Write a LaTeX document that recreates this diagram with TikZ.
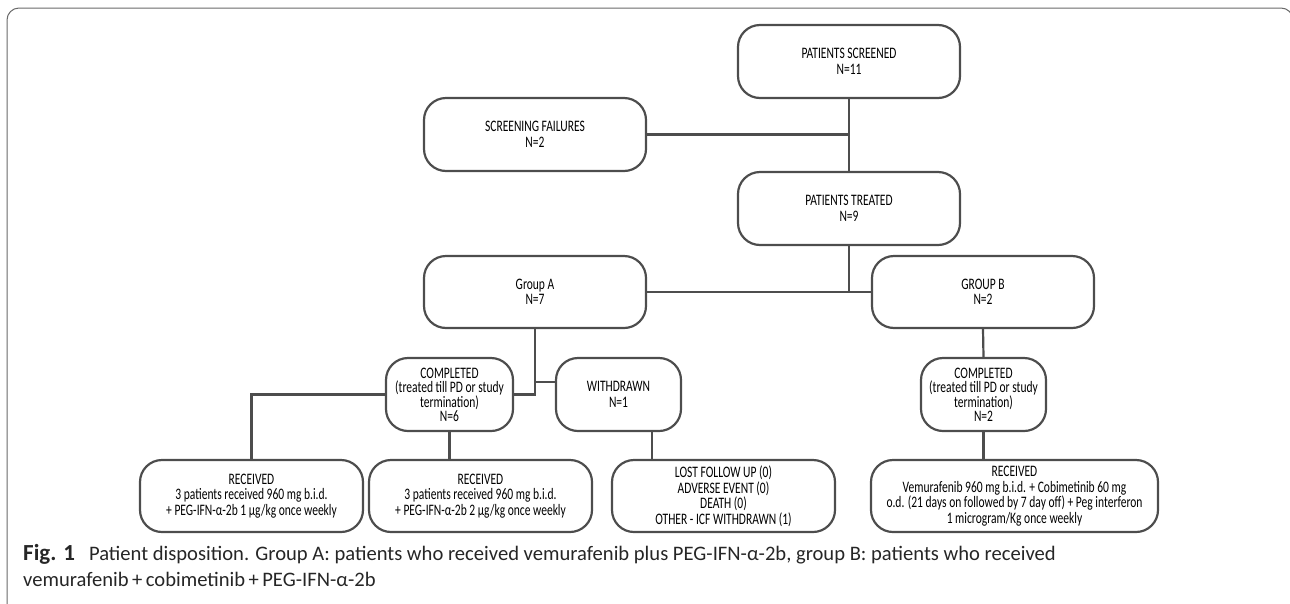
\documentclass[tikz,border=0pt]{standalone}
\usepackage{fontspec}
\setmainfont{Carlito}
\newfontfamily\boxfont[FakeStretch=0.72]{Carlito}
\definecolor{linegray}{HTML}{4D4D4D}
\definecolor{framegray}{HTML}{6A6A6A}
\tikzset{
  flowbox/.style={draw=linegray, line width=2.2pt, rounded corners=22pt, inner sep=0pt,
    align=center, font=\boxfont\fontsize{16}{15.5}\selectfont},
  tightbox/.style={flowbox, font=\boxfont\fontsize{16}{14}\selectfont},
  conn/.style={draw=linegray, line width=2.2pt},
  captext/.style={anchor=base west, inner sep=0pt, text=black!85, font=\fontsize{20.6}{24}\selectfont},
}
\begin{document}
\begin{tikzpicture}[x=1pt,y=-1pt]
\useasboundingbox (0,0) rectangle (1290,603);
\draw[framegray, line width=1pt, rounded corners=12pt] (7,615) -- (7,8) -- (1293,8) -- (1293,40);

\node[flowbox, minimum width=222pt, minimum height=73pt] (scr) at (849,61.5) {PATIENTS SCREENED\\N=11};
\node[flowbox, minimum width=222pt, minimum height=73pt] (fail) at (535,134.5) {SCREENING FAILURES\\N=2};
\node[flowbox, minimum width=222pt, minimum height=73pt] (treat) at (849,208.5) {PATIENTS TREATED\\N=9};
\node[flowbox, minimum width=222pt, minimum height=72pt] (ga) at (535,292) {Group A\\N=7};
\node[flowbox, minimum width=222pt, minimum height=72pt] (gb) at (983,292) {GROUP B\\N=2};
\node[tightbox, minimum width=127pt, minimum height=73pt] (compA) at (449.5,394.5) {COMPLETED\\(treated till PD or study\\termination)\\N=6};
\node[flowbox, minimum width=125pt, minimum height=73pt] (wd) at (618.5,394.5) {WITHDRAWN\\N=1};
\node[tightbox, minimum width=125pt, minimum height=73pt] (compB) at (983.5,394.5) {COMPLETED\\(treated till PD or study\\termination)\\N=2};
\node[flowbox, minimum width=223pt, minimum height=72pt] (r1) at (251.5,496) {RECEIVED\\3 patients received 960 mg b.i.d.\\+ PEG-IFN-α-2b 1 µg/kg once weekly};
\node[flowbox, minimum width=223pt, minimum height=72pt] (r2) at (480.5,496) {RECEIVED\\3 patients received 960 mg b.i.d.\\+ PEG-IFN-α-2b 2 µg/kg once weekly};
\node[flowbox, minimum width=223pt, minimum height=72pt] (lost) at (723.5,496) {LOST FOLLOW UP (0)\\ADVERSE EVENT (0)\\DEATH (0)\\OTHER - ICF WITHDRAWN (1)};
\node[flowbox, minimum width=287pt, minimum height=72pt] (rB) at (1014.5,496) {RECEIVED\\Vemurafenib 960 mg b.i.d. + Cobimetinib 60 mg\\o.d. (21 days on followed by 7 day off) + Peg interferon\\1 microgram/Kg once weekly};

\coordinate (jT) at (849,292);
\coordinate (jA) at (535,382);
\draw[conn] (scr.south) -- (treat.north);
\draw[conn] (fail.east) -- (fail.east -| scr.south);
\draw[conn] (treat.south) -- (jT);
\draw[conn] (ga.east) -- (gb.west);
\draw[conn] (ga.south) |- (compA.east);
\draw[conn] (jA) -- (jA -| wd.west);
\draw[conn] (compA.west) -| (r1.north);
\draw[conn] (compA.south) -- (compA.south |- r2.north);
\draw[conn] ([xshift=33.5pt]wd.south) -- ([xshift=33.5pt]wd.south |- lost.north);
\draw[conn] (gb.south) -- (compB.north);
\draw[conn] (compB.south) -- (compB.south |- rB.north);

\node[captext] (cap1) at (23,560) {{\fontsize{23}{24}\selectfont\textbf{Fig. 1}}\hspace{14pt}Patient disposition. Group A: patients who received vemurafenib plus PEG-IFN-α-2b, group B: patients who received};
\node[captext] (cap2) at (23,586) {vemurafenib\,+\,cobimetinib\,+\,PEG-IFN-α-2b};
\end{tikzpicture}
\end{document}
